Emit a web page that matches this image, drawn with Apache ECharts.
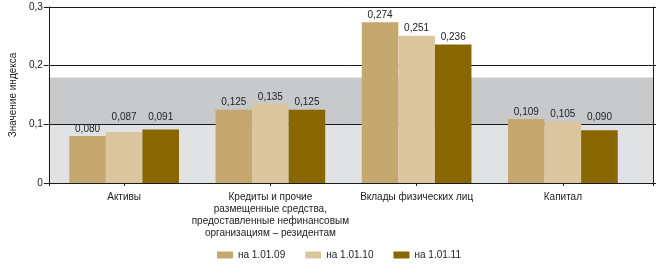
<!DOCTYPE html>
<html lang="ru">
<head>
  <meta charset="UTF-8">
  <title>Значение индекса</title>
  <script src="https://cdn.jsdelivr.net/npm/echarts@6/dist/echarts.min.js"></script>
  <style>
    html, body { margin: 0; padding: 0; background: #fff; }
    #chart { width: 659px; height: 266px; }
  </style>
</head>
<body>
  <div id="chart"></div>
  <script>
    // данные
    var categories = [
      'Активы',
      'Кредиты и прочие\nразмещенные средства,\nпредоставленные нефинансовым\nорганизациям – резидентам',
      'Вклады физических лиц',
      'Капитал'
    ];
    var seriesNames = ['на 1.01.09', 'на 1.01.10', 'на 1.01.11'];
    var v2009 = [0.080, 0.125, 0.274, 0.109];
    var v2010 = [0.087, 0.135, 0.251, 0.105];
    var v2011 = [0.091, 0.125, 0.236, 0.090];
    var bandEdges = [0, 0.1, 0.18];

    var colors = ['#c4a86f', '#dcc6a0', '#886600'];
    var bandColors = ['#e1e2e4', '#c8c9cb'];
    var font = '"Liberation Sans", Arial, sans-serif';
    var ink = '#1a1a1a';

    function fmt(v, d) {
      return v === 0 ? '0' : v.toFixed(d).replace('.', ',');
    }

    // подписи чуть ниже линии 0,1 поднимаем над ней
    function items(arr) {
      return arr.map(function (v) {
        var dist = 2;
        if (v > 0.085 && v < 0.1) dist = (0.1 - v) * 587 + 2;
        return { value: v, label: { distance: dist } };
      });
    }

    var chart = echarts.init(document.getElementById('chart'));

    var yBase = { type: 'value', min: 0, max: 0.3, interval: 0.1 };

    chart.setOption({
      animation: false,
      textStyle: { fontFamily: font },
      grid: [
        { left: 36, right: 6, top: 7, bottom: 83 },
        { left: 51, right: 23, top: 7, bottom: 83 }
      ],
      xAxis: [
        {
          gridIndex: 0, type: 'value', min: 0, max: 1, interval: 1, z: 3,
          axisLine: { show: true, lineStyle: { color: ink, width: 1 } },
          axisTick: { show: true, length: 3, lineStyle: { color: ink } },
          axisLabel: { show: false },
          splitLine: { show: false }
        },
        {
          gridIndex: 1, type: 'category', data: categories,
          axisLine: { show: false },
          axisTick: { show: true, alignWithLabel: true, length: 3, lineStyle: { color: ink } },
          axisLabel: {
            interval: 0, margin: 8, fontSize: 10, color: '#222',
            lineHeight: 12, fontFamily: font
          }
        }
      ],
      yAxis: [
        Object.assign({}, yBase, {
          gridIndex: 0, z: 3,
          name: 'Значение индекса', nameLocation: 'middle', nameRotate: 90, nameGap: 26,
          nameTextStyle: { fontSize: 10, color: '#222', fontFamily: font },
          axisLine: { show: true, lineStyle: { color: ink } },
          axisTick: { show: true, length: 5, lineStyle: { color: ink } },
          axisLabel: {
            fontSize: 10, color: '#222', margin: 6, fontFamily: font,
            formatter: function (v) { return fmt(v, 1); }
          },
          splitLine: { show: true, lineStyle: { color: ink, width: 1 } }
        }),
        Object.assign({}, yBase, {
          gridIndex: 0, position: 'right', z: 3,
          axisLine: { show: true, lineStyle: { color: ink } },
          axisTick: { show: true, length: 3, lineStyle: { color: ink } },
          axisLabel: { show: false },
          splitLine: { show: false }
        }),
        Object.assign({}, yBase, {
          gridIndex: 1, show: false, splitLine: { show: false }
        })
      ],
      legend: {
        data: seriesNames,
        left: 212, top: 245,
        itemWidth: 16, itemHeight: 7, itemGap: 20,
        icon: 'rect',
        textStyle: { fontSize: 10, color: '#222', fontFamily: font }
      },
      series: [
        {
          type: 'line', xAxisIndex: 0, yAxisIndex: 0, data: [], z: 1, silent: true,
          markArea: {
            silent: true,
            data: bandEdges.slice(0, -1).map(function (e, i) {
              return [
                { yAxis: e, itemStyle: { color: bandColors[i] } },
                { yAxis: bandEdges[i + 1] }
              ];
            })
          }
        }
      ].concat([v2009, v2010, v2011].map(function (arr, i) {
        return {
          name: seriesNames[i], type: 'bar', xAxisIndex: 1, yAxisIndex: 2, z: 5,
          barGap: '0%', barCategoryGap: '25%',
          itemStyle: { color: colors[i] },
          label: {
            show: true, position: 'top', fontSize: 10, color: '#222', fontFamily: font,
            formatter: function (p) { return fmt(p.value, 3); }
          },
          data: items(arr)
        };
      }))
    });
  </script>
</body>
</html>
